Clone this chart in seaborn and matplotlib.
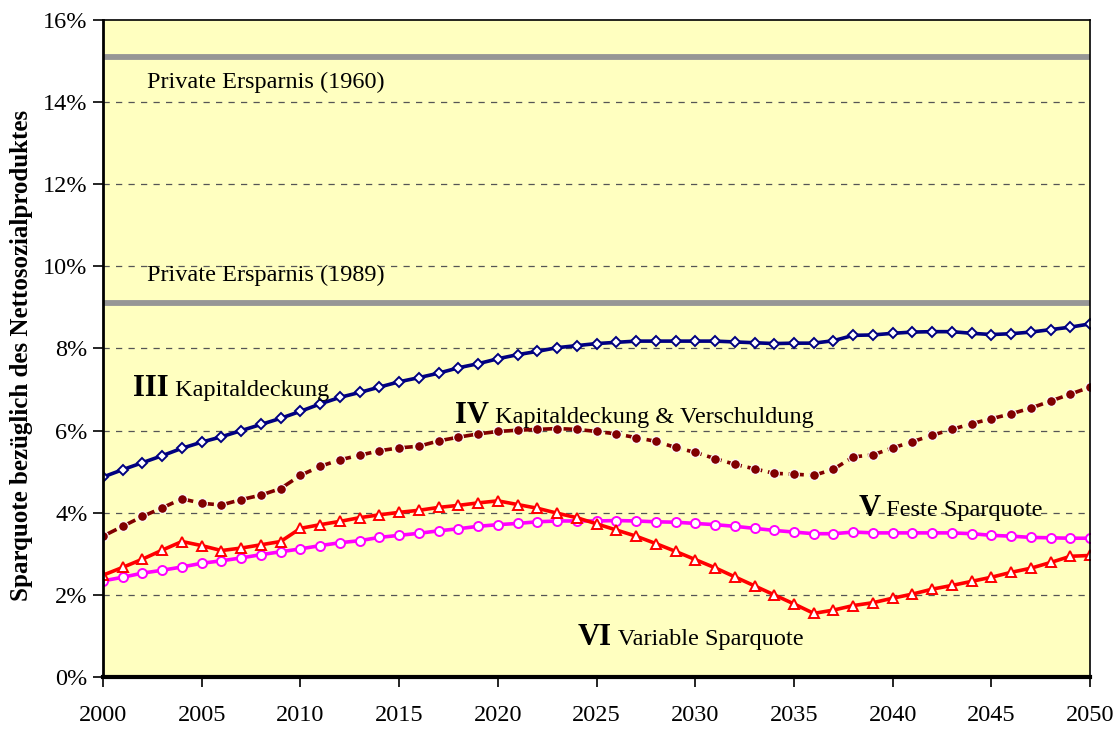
import numpy as np
import pandas as pd
import matplotlib
matplotlib.use("Agg")
import matplotlib.pyplot as plt
import seaborn as sns

"""Values read off the reference chart (percent)"""
years = list(range(2000, 2051))

kapitaldeckung = [
    4.87, 5.05, 5.22, 5.39, 5.57, 5.72, 5.85, 6.00, 6.15, 6.30,
    6.47, 6.65, 6.81, 6.93, 7.06, 7.19, 7.29, 7.40, 7.53, 7.63,
    7.75, 7.85, 7.93, 8.02, 8.07, 8.12, 8.15, 8.18, 8.18, 8.18,
    8.18, 8.18, 8.16, 8.14, 8.12, 8.13, 8.13, 8.19, 8.32, 8.33,
    8.37, 8.40, 8.41, 8.41, 8.37, 8.34, 8.36, 8.40, 8.46, 8.52,
    8.60,
]
verschuldung = [
    3.43, 3.67, 3.91, 4.12, 4.34, 4.23, 4.19, 4.32, 4.43, 4.59,
    4.91, 5.13, 5.29, 5.40, 5.51, 5.58, 5.62, 5.75, 5.84, 5.92,
    5.98, 6.01, 6.03, 6.05, 6.03, 5.98, 5.92, 5.83, 5.74, 5.59,
    5.47, 5.32, 5.18, 5.07, 4.96, 4.94, 4.91, 5.06, 5.36, 5.41,
    5.58, 5.73, 5.89, 6.03, 6.17, 6.29, 6.41, 6.55, 6.72, 6.89,
    7.06,
]
feste = [
    2.34, 2.43, 2.53, 2.60, 2.68, 2.77, 2.83, 2.90, 2.98, 3.05,
    3.12, 3.20, 3.27, 3.32, 3.40, 3.45, 3.50, 3.56, 3.61, 3.67,
    3.71, 3.74, 3.78, 3.80, 3.80, 3.80, 3.81, 3.80, 3.78, 3.77,
    3.74, 3.71, 3.67, 3.62, 3.57, 3.53, 3.49, 3.49, 3.53, 3.51,
    3.51, 3.51, 3.51, 3.51, 3.49, 3.45, 3.43, 3.40, 3.39, 3.38,
    3.38,
]
variable = [
    2.48, 2.67, 2.87, 3.09, 3.30, 3.20, 3.08, 3.14, 3.22, 3.30,
    3.62, 3.71, 3.79, 3.88, 3.95, 4.01, 4.06, 4.13, 4.18, 4.24,
    4.29, 4.20, 4.11, 3.99, 3.88, 3.73, 3.58, 3.43, 3.25, 3.06,
    2.86, 2.66, 2.44, 2.22, 2.00, 1.78, 1.55, 1.63, 1.74, 1.81,
    1.92, 2.02, 2.14, 2.23, 2.33, 2.43, 2.55, 2.65, 2.79, 2.94,
    2.96,
]
ersparnis_levels = [15.1, 9.1]
ersparnis_labels = ["Private Ersparnis (1960)", "Private Ersparnis (1989)"]

df = pd.DataFrame({
    "Jahr": years,
    "III": kapitaldeckung,
    "IV": verschuldung,
    "V": feste,
    "VI": variable,
})

sns.set_style("white")
plt.rcParams["font.family"] = ["Liberation Serif", "DejaVu Serif"]

fig = plt.figure(figsize=(11.18, 7.29), dpi=100)
ax = fig.add_axes([0.0921, 0.0713, 0.883, 0.9013])
ax.set_facecolor("#FFFFC0")

# horizontal reference lines (private savings)
for lvl in ersparnis_levels:
    ax.axhline(lvl, color="#969696", lw=4.2, zorder=2)

# dashed gridlines
for g in range(2, 16, 2):
    ax.axhline(g, color="#555555", lw=0.9, ls=(0, (5, 5)), zorder=1)

sns.lineplot(data=df, x="Jahr", y="III", ax=ax, color="#000080", lw=2.6,
             marker="D", markersize=5.5, markerfacecolor="white",
             markeredgecolor="#000080", markeredgewidth=1.4, zorder=5)
sns.lineplot(data=df, x="Jahr", y="IV", ax=ax, color="#800000", lw=2.6,
             dashes=(4.2, 1.6), marker="o", markersize=7,
             markerfacecolor="#800000", markeredgecolor="white",
             markeredgewidth=0.8, zorder=5)
sns.lineplot(data=df, x="Jahr", y="V", ax=ax, color="#FF00FF", lw=2.6,
             marker="o", markersize=6.5, markerfacecolor="white",
             markeredgecolor="#FF00FF", markeredgewidth=1.4, zorder=5)
sns.lineplot(data=df, x="Jahr", y="VI", ax=ax, color="#FF0000", lw=2.6,
             marker="^", markersize=7, markerfacecolor="white",
             markeredgecolor="#FF0000", markeredgewidth=1.4, zorder=6)

ax.set_xlim(2000, 2050)
ax.set_ylim(0, 16)
ax.set_xticks(range(2000, 2051, 5))
ax.set_yticks(range(0, 17, 2))
ax.set_yticklabels([f"{v}%" for v in range(0, 17, 2)])
ax.tick_params(axis="both", labelsize=17.5, direction="out", length=7,
               width=1.2, color="black", labelcolor="black",
               left=True, bottom=True)
ax.tick_params(axis="x", pad=13)
ax.tick_params(axis="y", pad=4)

ax.set_xlabel("")
ax.set_ylabel("Sparquote bezüglich des Nettosozialproduktes", fontsize=18,
              fontweight="bold", color="black")
ax.yaxis.set_label_coords(-0.071, 0.49)

for side in ["top", "right"]:
    ax.spines[side].set_visible(True)
    ax.spines[side].set_linewidth(1.2)
ax.spines["left"].set_linewidth(2.0)
ax.spines["bottom"].set_linewidth(3.0)
for s in ax.spines.values():
    s.set_color("black")
    s.set_zorder(8)

# annotations
ax.text(2002.23, 14.49, ersparnis_labels[0], fontsize=17.5, va="center",
        color="black", zorder=7)
ax.text(2002.23, 9.79, ersparnis_labels[1], fontsize=17.5, va="center",
        color="black", zorder=7)

labels = [
    (2001.52, 6.84, "III", "Kapitaldeckung"),
    (2017.83, 6.19, "IV", "Kapitaldeckung & Verschuldung"),
    (2038.25, 3.92, "V", "Feste Sparquote"),
    (2024.06, 0.78, "VI", "Variable Sparquote"),
]
for x0, y0, num, txt in labels:
    t = ax.annotate(num, (x0, y0), fontsize=22, fontweight="bold",
                    va="baseline", color="black", zorder=7)
    ax.annotate(" " + txt, xy=(1, y0), xycoords=(t, "data"), fontsize=17.5,
                va="baseline", ha="left", color="black", zorder=7)

fig.savefig("out.png", dpi=100, facecolor="white")
